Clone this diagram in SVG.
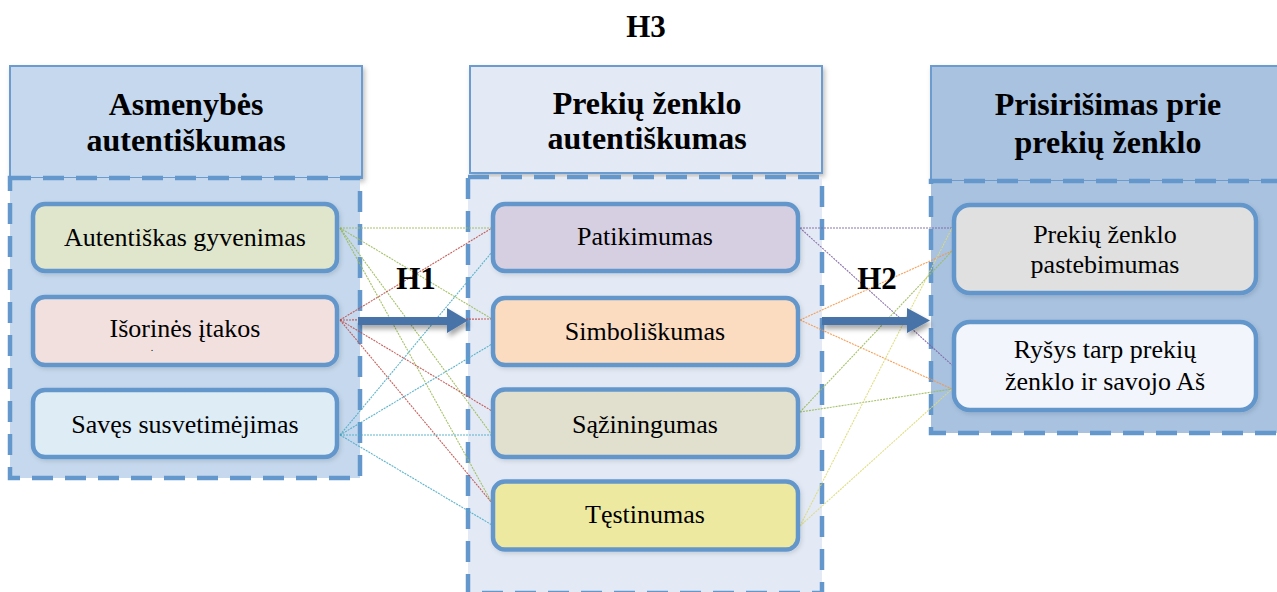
<svg xmlns="http://www.w3.org/2000/svg" width="1277" height="592" viewBox="0 0 1277 592">
  <defs>
    <filter id="shadow" x="-10%" y="-10%" width="130%" height="140%">
      <feDropShadow dx="2" dy="3" stdDeviation="2.5" flood-color="#000" flood-opacity="0.25"/>
    </filter>
    <filter id="softShadow" x="-10%" y="-20%" width="130%" height="150%">
      <feDropShadow dx="1.5" dy="2" stdDeviation="2" flood-color="#000" flood-opacity="0.12"/>
    </filter>
    <filter id="arrowShadow" x="-10%" y="-50%" width="130%" height="250%">
      <feDropShadow dx="2" dy="4" stdDeviation="2.5" flood-color="#000" flood-opacity="0.35"/>
    </filter>
    <style>
      .head { stroke: #6c9bd0; stroke-width: 2; }
      .group { stroke: #6497cc; stroke-width: 4.5; stroke-dasharray: 21 12; }
      .item { stroke: #6497cc; stroke-width: 4.5; filter: url(#softShadow); }
      text { font-family: 'Liberation Serif', 'DejaVu Serif', serif; fill: #000; text-anchor: middle; }
      .title { font-weight: bold; font-size: 32px; }
      .label { font-size: 26px; }
      .hyp { font-weight: bold; font-size: 31px; }
      .link { fill: none; stroke-width: 1.1; stroke-dasharray: 2 1; opacity: 0.9; }
      .g { stroke: #9bbb59; }
      .r { stroke: #c0504d; }
      .c { stroke: #4bacc6; }
      .p { stroke: #8064a2; }
      .o { stroke: #f79646; }
      .y { stroke: #dcdc78; }
      .arrow { fill: #4673a8; filter: url(#arrowShadow); }
    </style>
  </defs>

  <rect width="1277" height="592" fill="#ffffff"/>

  <!-- Column: personal authenticity -->
  <g id="col-asmenybes">
    <rect class="head" x="10" y="66" width="352" height="112" fill="#c5d8ed" filter="url(#shadow)"/>
    <rect class="group" x="10" y="178" width="350" height="300" fill="#c5d8ed"/>
    <text class="title" x="186" y="115" font-family="Liberation Serif, serif">Asmenybės</text>
    <text class="title" x="186" y="151" font-family="Liberation Serif, serif">autentiškumas</text>
  </g>

  <!-- Column: brand authenticity -->
  <g id="col-prekiu">
    <rect class="head" x="470" y="66" width="352" height="107" fill="#e3eaf5" filter="url(#shadow)"/>
    <rect class="group" x="468" y="177" width="354" height="416" fill="#e3eaf5"/>
    <text class="title" x="647" y="114">Prekių ženklo</text>
    <text class="title" x="647" y="149">autentiškumas</text>
  </g>

  <!-- Column: brand attachment -->
  <g id="col-prisirisimas">
    <rect class="head" x="931" y="66" width="360" height="115" fill="#a8c2e0" filter="url(#shadow)"/>
    <rect class="group" x="931" y="181" width="360" height="252" fill="#a8c2e0"/>
    <text class="title" x="1108" y="115">Prisirišimas prie</text>
    <text class="title" x="1108" y="153">prekių ženklo</text>
  </g>

  <!-- Dotted links between the factors -->
  <g id="connectors">
    <line class="link g" x1="340" y1="228" x2="492" y2="228"/>
    <line class="link g" x1="340" y1="228" x2="492" y2="319"/>
    <line class="link g" x1="340" y1="228" x2="492" y2="435"/>
    <line class="link g" x1="340" y1="228" x2="492" y2="503"/>
    <line class="link r" x1="340" y1="320" x2="492" y2="228"/>
    <line class="link r" x1="340" y1="320" x2="492" y2="319"/>
    <line class="link r" x1="340" y1="320" x2="492" y2="411"/>
    <line class="link r" x1="340" y1="320" x2="492" y2="503"/>
    <line class="link c" x1="340" y1="435" x2="492" y2="252"/>
    <line class="link c" x1="340" y1="435" x2="492" y2="344"/>
    <line class="link c" x1="340" y1="435" x2="492" y2="435"/>
    <line class="link c" x1="340" y1="435" x2="492" y2="525"/>

    <line class="link p" x1="800" y1="228" x2="952" y2="228"/>
    <line class="link p" x1="800" y1="228" x2="952" y2="365"/>
    <line class="link o" x1="800" y1="320" x2="952" y2="251"/>
    <line class="link o" x1="800" y1="320" x2="952" y2="389"/>
    <line class="link g" x1="800" y1="412" x2="952" y2="251"/>
    <line class="link g" x1="800" y1="412" x2="952" y2="389"/>
    <line class="link y" x1="800" y1="526" x2="952" y2="228"/>
    <line class="link y" x1="800" y1="526" x2="952" y2="389"/>

    <polygon class="arrow" points="358,317 447,317 447,308 468,320.5 447,333 447,325 358,325"/>
    <polygon class="arrow" points="822,317 907,317 907,308 930,320.5 907,333 907,325 822,325"/>
  </g>

  <!-- Hypothesis labels -->
  <g id="hypotheses">
    <text class="hyp" x="646" y="37">H3</text>
    <text class="hyp" x="416" y="289">H1</text>
    <text class="hyp" x="877" y="289">H2</text>
  </g>

  <!-- Personal authenticity factors -->
  <g id="n-autentiskas">
    <rect class="item" x="33" y="204" width="304" height="67" rx="12" fill="#dfe6cb"/>
    <text class="label" x="185" y="246">Autentiškas gyvenimas</text>
  </g>
  <g id="n-isorines">
    <rect class="item" x="33" y="297" width="304" height="68" rx="12" fill="#f2e0df"/>
    <text class="label" x="185" y="337">Išorinės įtakos</text>
    <text class="label" x="152" y="351" style="font-size:10px">.</text>
  </g>
  <g id="n-saves">
    <rect class="item" x="33" y="390" width="304" height="67" rx="12" fill="#deecf6"/>
    <text class="label" x="185" y="433">Savęs susvetimėjimas</text>
  </g>

  <!-- Brand authenticity factors -->
  <g id="n-patikimumas">
    <rect class="item" x="493" y="204" width="305" height="67" rx="12" fill="#d6cfe2"/>
    <text class="label" x="645" y="245">Patikimumas</text>
  </g>
  <g id="n-simboliskumas">
    <rect class="item" x="493" y="298" width="305" height="67" rx="12" fill="#fbdcc0"/>
    <text class="label" x="645" y="340">Simboliškumas</text>
  </g>
  <g id="n-saziningumas">
    <rect class="item" x="493" y="389.5" width="305" height="67.5" rx="12" fill="#e1dfcd"/>
    <text class="label" x="645" y="433">Sąžiningumas</text>
  </g>
  <g id="n-testinumas">
    <rect class="item" x="493" y="481.5" width="305" height="68" rx="12" fill="#ede9a0"/>
    <text class="label" x="645" y="523">Tęstinumas</text>
  </g>

  <!-- Brand attachment factors -->
  <g id="n-pastebimumas">
    <rect class="item" x="954" y="205" width="302" height="88" rx="16" fill="#e0e0e0"/>
    <text class="label" x="1105" y="243">Prekių ženklo</text>
    <text class="label" x="1105" y="273">pastebimumas</text>
  </g>
  <g id="n-rysys">
    <rect class="item" x="954" y="322" width="302" height="88" rx="16" fill="#f2f5fb"/>
    <text class="label" x="1105" y="358">Ryšys tarp prekių</text>
    <text class="label" x="1105" y="390">ženklo ir savojo Aš</text>
  </g>
</svg>
